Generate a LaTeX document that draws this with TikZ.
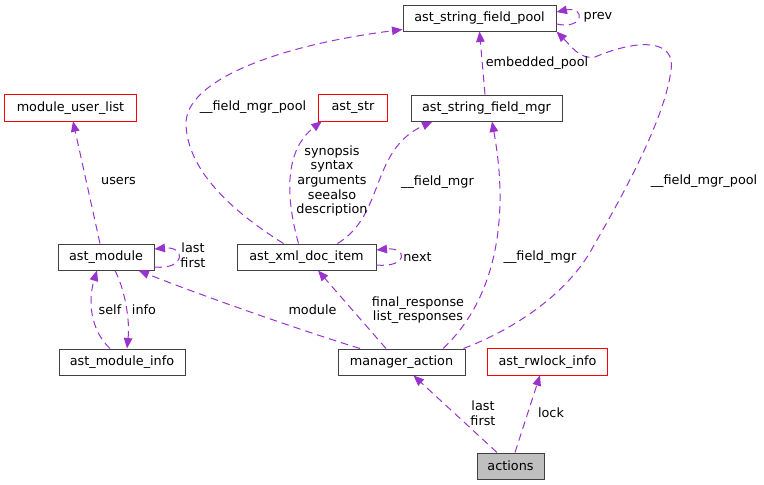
\documentclass[tikz,border=0pt]{standalone}
\usepackage{fontspec}
\setmainfont{DejaVu Sans}
\usetikzlibrary{arrows.meta,calc}
\definecolor{edgec}{HTML}{9A32CD}
\definecolor{boxc}{HTML}{404040}
\definecolor{redc}{HTML}{FF0000}
\begin{document}
\begin{tikzpicture}[x=1pt,y=-1pt,
  box/.style={draw=boxc, line width=1pt, fill=white, minimum height=26pt, inner sep=0pt, font=\fontsize{12.8}{15}\selectfont},
  redbox/.style={minimum height=26pt, inner sep=0pt, font=\fontsize{12.8}{15}\selectfont},
  redframe/.style={draw=redc, line width=1pt},
  graybox/.style={box, fill=black!25},
  rel/.style={draw=edgec, line width=1pt, dash pattern=on 7.5pt off 5pt, -{Triangle[length=10.5pt,width=8.5pt]}},
  lbl/.style={font=\fontsize{12.8}{14.6}\selectfont, inner sep=0pt, align=center}]
\useasboundingbox (0,0) rectangle (764,485);
% nodes
\node[box, minimum width=153pt] (pool) at (479.5,18) {ast\_string\_field\_pool};
\node[redbox, minimum width=68pt] (str) at (353,108) {ast\_str};
\node[box, minimum width=151pt] (mgr) at (486.5,108) {ast\_string\_field\_mgr};
\node[redbox, minimum width=131pt] (mul) at (70.5,108) {module\_user\_list};
\node[box, minimum width=96pt] (mod) at (106,257) {ast\_module};
\node[box, minimum width=139pt] (doc) at (306.5,257) {ast\_xml\_doc\_item};
\node[box, minimum width=126pt] (modinfo) at (122,362) {ast\_module\_info};
\node[box, minimum width=127pt] (ma) at (401.5,362) {manager\_action};
\node[redbox, minimum width=119pt] (rw) at (547.5,362) {ast\_rwlock\_info};
\node[graybox, minimum width=67pt] (act) at (510.5,466) {actions};
\draw[redframe] (str.south west) rectangle (str.north east);
\draw[redframe] (mul.south west) rectangle (mul.north east);
\draw[redframe] (rw.south west) rectangle (rw.north east);
% edges
\draw[rel] ($(pool.east)+(0,6)$) .. controls (585,30) and (585,6) .. ($(pool.east)+(0,-6)$);
\draw[rel] ($(mgr.north)+(-1.5,0)$) -- (pool.south);
\draw[rel] ($(ma.north east)+(-2,0)$) .. controls (520,327) and (570,290) .. (593,247)
  .. controls (620,200) and (665,120) .. (671,70)
  .. controls (676,40) and (640,38) .. (595,57)
  .. controls (580,60) and (570,45) .. (pool.south east);
\draw[rel] ($(doc.north)+(-23,0)$) .. controls (230,210) and (188,170) .. (186,125)
  .. controls (184,80) and (280,45) .. ($(pool.south west)+(0,-2)$);
\draw[rel] ($(doc.north)+(-8,0)$) .. controls (285,195) and (285,150) .. ($(str.south west)+(3,0)$);
\draw[rel] ($(doc.north)+(31,0)$) .. controls (385,215) and (370,150) .. ($(mgr.south west)+(22,0)$);
\draw[rel] ($(doc.east)+(0,8)$) .. controls (408,268) and (408,247) .. ($(doc.east)+(0,-7)$);
\draw[rel] ($(mod.east)+(0,10)$) .. controls (186,270) and (186,246) .. ($(mod.east)+(0,-8)$);
\draw[rel] ($(mod.north)+(-6,0)$) -- ($(mul.south)+(2.5,0)$);
\draw[rel] ($(modinfo.north)+(-12,0)$) .. controls (90,330) and (88,300) .. ($(mod.south)+(-9,0)$);
\draw[rel] ($(mod.south)+(9,0)$) .. controls (125,290) and (130,320) .. ($(modinfo.north)+(5,0)$);
\draw[rel] ($(ma.north)+(-41.5,0)$) .. controls (300,330) and (200,295) .. ($(mod.south east)+(-16,0)$);
\draw[rel] ($(ma.north)+(-15.5,0)$) -- ($(doc.south)+(11.5,0)$);
\draw[rel] ($(ma.north)+(41.5,0)$) .. controls (495,300) and (510,220) .. ($(mgr.south)+(5.5,0)$);
\draw[rel] ($(act.north)+(-13.5,0)$) -- ($(ma.south)+(12,0)$);
\draw[rel] ($(act.north)+(4.5,0)$) -- ($(rw.south)+(-7.5,0)$);
% labels
\node[lbl] (lprev) at (598,17) {prev};
\node[lbl] (lemb) at (537,63) {embedded\_pool};
\node[lbl] (lpool1) at (253,107) {\_\_field\_mgr\_pool};
\node[lbl] (lpool2) at (704,181) {\_\_field\_mgr\_pool};
\node[lbl] (lsyn) at (332,181) {synopsis\\syntax\\arguments\\seealso\\description};
\node[lbl] (lfm1) at (437.5,182) {\_\_field\_mgr};
\node[lbl] (lfm2) at (540,257) {\_\_field\_mgr};
\node[lbl] (lnext) at (417.5,257) {next};
\node[lbl] (lusers) at (118.5,181) {users};
\node[lbl] (llf1) at (193,255.5) {last\\first};
\node[lbl] (lself) at (110,310) {self};
\node[lbl] (linfo) at (144,310) {info};
\node[lbl] (lmodule) at (312.5,310) {module};
\node[lbl] (lfinal) at (418,310) {final\_response\\list\_responses};
\node[lbl] (llf2) at (483,413.5) {last\\first};
\node[lbl] (llock) at (551,413) {lock};
\end{tikzpicture}
\end{document}
